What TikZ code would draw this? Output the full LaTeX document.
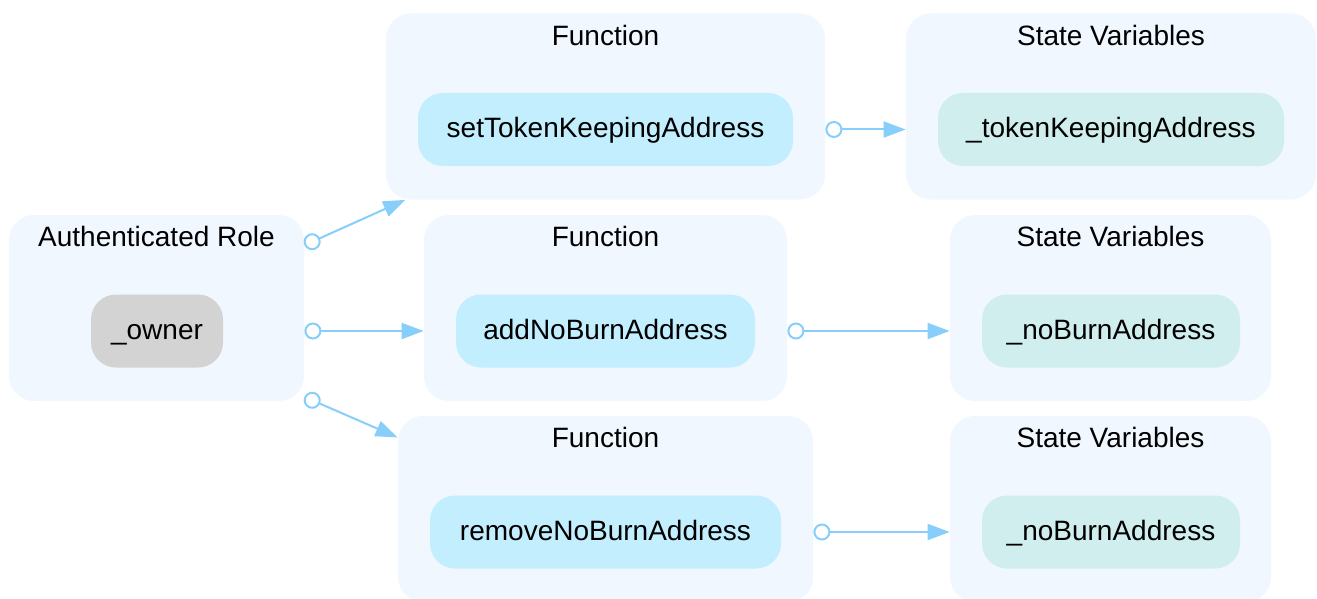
\documentclass[tikz,border=0pt]{standalone}
\usepackage{fontspec}
\setmainfont{Liberation Sans}
\usepackage{tikz}
\usetikzlibrary{positioning, arrows.meta, calc}

\definecolor{clusterbg}{HTML}{F0F7FF}
\definecolor{funcbg}{HTML}{C2EEFD}
\definecolor{varbg}{HTML}{D0EEEE}
\definecolor{rolebg}{HTML}{D3D3D3}
\definecolor{edgeblue}{HTML}{87CEFA}

\begin{document}
\begin{tikzpicture}[
    x=0.5pt, y=-0.5pt,
    font=\fontsize{14}{17}\selectfont,
    cluster/.style={rectangle, fill=clusterbg, rounded corners=12.5pt, minimum height=93pt, inner sep=0pt},
    title/.style={inner sep=0pt},
    item/.style={rectangle, rounded corners=12.5pt, minimum height=36.5pt, inner sep=0pt, text height=11pt, text depth=3pt},
    func/.style={item, fill=funcbg},
    var/.style={item, fill=varbg},
    role/.style={item, fill=rolebg},
    link/.style={draw=edgeblue, line width=1pt, {Circle[open, length=8.5pt, width=8.5pt]}-{Triangle[length=11pt, width=8pt]}}
]
\useasboundingbox (0,0) rectangle (1317,599);

% clusters
\node[cluster, minimum width=147.5pt] (auth) at (156.5, 308) {};
\node[cluster, minimum width=219.5pt] (fun1) at (605.5, 106.5) {};
\node[cluster, minimum width=205pt] (var1) at (1111, 106.5) {};
\node[cluster, minimum width=181.5pt] (fun2) at (605.5, 308) {};
\node[cluster, minimum width=160.5pt] (var2) at (1110.5, 308) {};
\node[cluster, minimum width=207.5pt] (fun3) at (605.5, 509) {};
\node[cluster, minimum width=160.5pt] (var3) at (1110.5, 509) {};

\node[title] (authT) at ($(auth.north)+(0,22)$) {Authenticated Role};
\node[title] (fun1T) at ($(fun1.north)+(0,22)$) {Function};
\node[title] (var1T) at ($(var1.north)+(0,22)$) {State Variables};
\node[title] (fun2T) at ($(fun2.north)+(0,22)$) {Function};
\node[title] (var2T) at ($(var2.north)+(0,22)$) {State Variables};
\node[title] (fun3T) at ($(fun3.north)+(0,22)$) {Function};
\node[title] (var3T) at ($(var3.north)+(0,22)$) {State Variables};

% nodes
\node[role, minimum width=66pt] (owner) at (157, 331) {\_owner};
\node[func, minimum width=187.5pt] (fn1) at (605.5, 129.5) {setTokenKeepingAddress};
\node[var, minimum width=173pt] (sv1) at (1111, 129.5) {\_tokenKeepingAddress};
\node[func, minimum width=149.5pt] (fn2) at (605.5, 331) {addNoBurnAddress};
\node[var, minimum width=129pt] (sv2) at (1111, 331) {\_noBurnAddress};
\node[func, minimum width=175.5pt] (fn3) at (605.5, 532) {removeNoBurnAddress};
\node[var, minimum width=129pt] (sv3) at (1111, 532) {\_noBurnAddress};

% edges
\draw[link] (auth.23) -- (fun1.205);
\draw[link] (owner -| auth.east) -- (owner -| fun2.west);
\draw[link] (auth.-31) -- (fun3.161);
\draw[link] (fn1 -| fun1.east) -- (sv1 -| var1.west);
\draw[link] (fn2 -| fun2.east) -- (sv2 -| var2.west);
\draw[link] (fn3 -| fun3.east) -- (sv3 -| var3.west);

\end{tikzpicture}
\end{document}
